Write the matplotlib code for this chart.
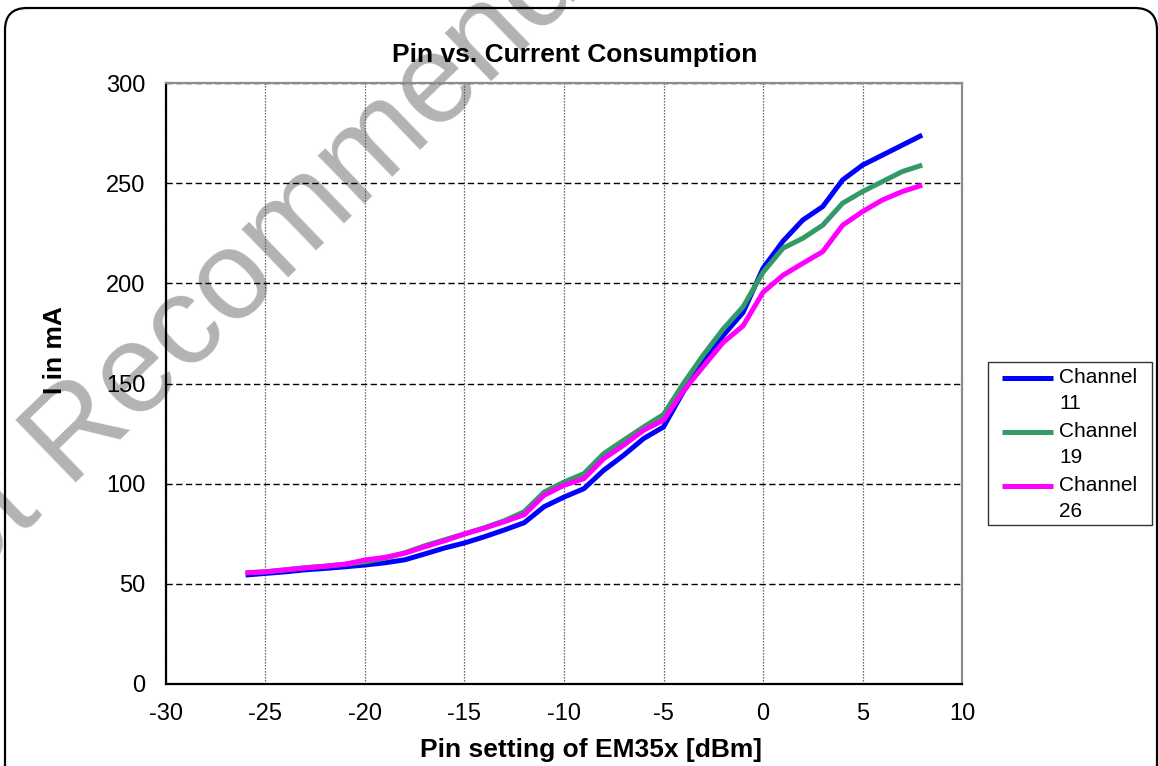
import matplotlib
matplotlib.use('Agg')
import matplotlib.pyplot as plt
from matplotlib.patches import FancyBboxPatch, Rectangle
from matplotlib.transforms import IdentityTransform
from matplotlib.legend_handler import HandlerLine2D
from matplotlib.lines import Line2D

plt.rcParams['font.family'] = ['Liberation Sans', 'DejaVu Sans']
plt.rcParams['axes.unicode_minus'] = False

# Pin setting (dBm) and measured current (mA) per channel
pin_dbm = list(range(-26, 9))
ch11 = [54.4, 55.2, 56.0, 57.0, 57.7, 58.5, 59.4, 60.5, 62.0, 64.9,
        67.9, 70.4, 73.5, 76.9, 80.5, 88.5, 93.3, 97.5, 106.7, 114.2,
        122.5, 128.3, 146.0, 160.5, 174.0, 185.5, 207.5, 221.0, 231.6, 238.3,
        251.6, 259.0, 264.0, 269.0, 274.0]
ch19 = [55.5, 56.0, 57.0, 58.0, 58.8, 59.8, 61.0, 62.8, 65.5, 69.0,
        72.0, 74.9, 78.0, 81.5, 86.0, 95.8, 100.8, 105.0, 115.0, 121.7,
        128.3, 134.5, 150.0, 164.2, 177.2, 188.3, 205.5, 217.5, 222.5, 229.0,
        240.0, 245.8, 250.8, 255.8, 259.0]
ch26 = [55.5, 56.0, 57.0, 58.0, 58.8, 59.8, 61.9, 63.2, 65.3, 68.5,
        71.5, 74.9, 77.8, 81.0, 84.5, 94.2, 99.2, 102.5, 112.5, 119.2,
        126.7, 131.7, 146.3, 158.5, 170.5, 178.8, 195.5, 204.0, 210.0, 215.8,
        229.0, 235.8, 241.6, 245.8, 249.0]

series = [('Channel\n11', ch11, '#0000ff'),
          ('Channel\n19', ch19, '#339966'),
          ('Channel\n26', ch26, '#ff00ff')]

LEG_FS = 15
LEG_LS = 1.5


class TopLineHandler(HandlerLine2D):
    # put the legend line next to the first text line, not the last
    def create_artists(self, legend, orig_handle, xdescent, ydescent,
                       width, height, fontsize, trans):
        arts = super().create_artists(legend, orig_handle, xdescent, ydescent,
                                      width, height, fontsize, trans)
        for a in arts:
            a.set_ydata([y + 9.4 for y in a.get_ydata()])
        return arts


W, H = 1158, 766
fig = plt.figure(figsize=(W / 100, H / 100), dpi=100)
ax = fig.add_axes([166 / W, 1 - 684 / H, (962 - 166) / W, (684 - 83) / H])
ax.patch.set_visible(False)

for label, vals, col in series:
    ax.plot(pin_dbm, vals, color=col, lw=3.6, label=label,
            solid_capstyle='butt', solid_joinstyle='round')

ax.set_xlim(-30, 10)
ax.set_ylim(0, 300)
ax.set_xticks(range(-30, 11, 5))
ax.set_yticks(range(0, 301, 50))
ax.tick_params(length=0, labelsize=17, pad=14)
ax.tick_params(axis='y', pad=15)

ax.yaxis.grid(True, color='black', lw=1.0, linestyle=(0, (4.5, 2.5)))
ax.xaxis.grid(True, color='#444444', lw=0.9, linestyle=(0, (1.0, 1.4)))

for s in ['left', 'bottom']:
    ax.spines[s].set_color('black')
    ax.spines[s].set_linewidth(1.6)
for s in ['top', 'right']:
    ax.spines[s].set_color('#8c8c8c')
    ax.spines[s].set_linewidth(1.6)

fig.text(575 / W, 1 - 62 / H, 'Pin vs. Current Consumption', ha='center',
         va='baseline', fontsize=19, fontweight='bold')
fig.text(591 / W, 1 - 757 / H, 'Pin setting of EM35x [dBm]', ha='center',
         va='baseline', fontsize=19, fontweight='bold')
fig.text(62 / W, 1 - 350 / H, 'I in mA', ha='center', va='baseline',
         rotation=90, rotation_mode='anchor', fontsize=19, fontweight='bold')

leg = ax.legend(loc='upper left', bbox_to_anchor=(1002 / W, 1 - 368 / H),
                bbox_transform=fig.transFigure, fontsize=LEG_FS, frameon=False,
                handlelength=2.45, handletextpad=0.3, labelspacing=0.4,
                borderpad=0, borderaxespad=0,
                handler_map={Line2D: TopLineHandler()})
for t in leg.get_texts():
    t.set_linespacing(LEG_LS)
fig.add_artist(Rectangle((988, H - 525), 1152 - 988, 525 - 362,
                         transform=IdentityTransform(), fill=False,
                         edgecolor='#333333', lw=1.0))

# watermark, behind the chart texts
fig.text(-98.8 / W, 114.6 / H, 'Not Recommended', rotation=44,
         rotation_mode='anchor', ha='left', va='baseline', fontsize=91.5,
         color='#b3b3b3', zorder=-1)

# rounded chart border
frame = FancyBboxPatch((5, -30), 1152, 758 + 30,
                       boxstyle='round,pad=0,rounding_size=22',
                       transform=IdentityTransform(), fill=False,
                       edgecolor='black', lw=1.6)
fig.add_artist(frame)

fig.savefig('out.png', dpi=100)
